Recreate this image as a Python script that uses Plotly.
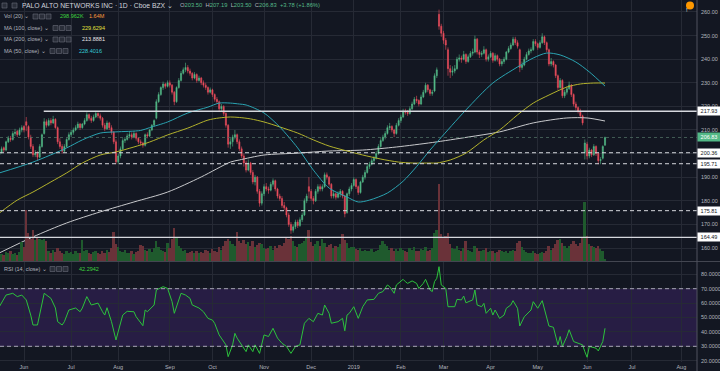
import plotly.graph_objects as go

# ---------------- data ----------------
month_ticks = [11, 32, 53, 76, 95, 118, 139, 158, 179, 198, 219, 240, 262, 282, 304]
month_labels = ['Jun', 'Jul', 'Aug', 'Sep', 'Oct', 'Nov', 'Dec', '2019', 'Feb', 'Mar',
                'Apr', 'May', 'Jun', 'Jul', 'Aug']

opens = [
    199.5, 200.5, 202.5, 201.5, 205, 206.5, 206, 208.5, 209.5, 208,
    210, 211.5, 213.5, 211.5, 207, 203, 199.5, 200, 198.5, 203,
    208.5, 213.5, 212, 214, 213, 214.5, 211, 205, 203, 201,
    203, 206, 208, 209, 210, 211, 212.5, 211, 212.5, 214,
    216.5, 215, 214, 215.5, 217, 216, 215, 212, 210.5, 213,
    211, 209, 205, 196.5, 199, 202, 205.5, 206, 207.5, 208,
    207, 208.5, 206.5, 205, 204.5, 203.5, 208, 207.5, 210, 212,
    215, 222, 225, 228, 229.5, 228.5, 230, 229, 226, 222,
    228, 231, 234, 235.5, 236.5, 235, 234, 232, 233.5, 231,
    232, 230, 229, 228, 226, 227, 225, 223, 222, 219,
    220, 217, 212, 204, 205, 207, 208, 205, 202, 199,
    196, 193, 196, 192, 188, 190, 184, 179, 183, 186,
    185, 184.5, 187, 188.5, 185, 182, 181, 178, 177, 174,
    170, 167.5, 169, 171, 169.5, 172, 174, 180, 186, 184,
    181, 180, 184, 186, 185, 186, 191, 190, 187, 182,
    183, 181.5, 183, 184, 182, 175, 183, 185, 186.5, 189,
    186, 183.5, 188, 190, 192, 194.5, 195.5, 197, 198, 200,
    203, 205.5, 207, 208.5, 211, 211.5, 210, 208.5, 212, 214,
    215.5, 218, 217.5, 217, 219, 221, 223, 222.5, 221, 224,
    226, 229, 227, 225.5, 226.5, 233, 259, 254, 251, 248,
    244, 236, 234.5, 235, 236, 240, 240.5, 240, 242, 239,
    241, 242.5, 243, 248.5, 243, 242, 242.5, 244, 240, 241,
    242.5, 239.5, 241.5, 240, 238, 239, 240, 243, 244.5, 246,
    248.5, 247, 244, 236.5, 237.5, 240, 242, 243.5, 244, 247.5,
    246.5, 245, 247, 249.5, 247, 244, 238, 239, 237.5, 233,
    228, 231, 224.5, 226, 227.5, 229, 225, 221, 219.5, 218,
    216, 200.5, 204, 199, 201.5, 199.5, 203, 200, 197, 198, 203.5,
]
highs = [
    201.5, 203, 203, 205.5, 207.5, 207.5, 209.5, 210.5, 210, 211,
    212, 212, 215.5, 212, 208, 204, 201.5, 201, 204, 208.5,
    215, 214.5, 215, 215, 216, 215, 211.5, 206.5, 204, 204,
    206.5, 209, 210, 211, 212, 213.5, 213, 213, 215, 217.5,
    217, 216, 216.5, 218, 217.5, 217, 215.5, 213, 214, 213.5,
    212, 209.5, 206, 200, 203, 206.5, 207, 208.5, 209.5, 209,
    209.5, 209, 207, 206, 205, 208.5, 209, 210.5, 212.5, 214.5,
    223, 226, 228.5, 230.5, 230, 231, 231, 229.5, 226.5, 228.5,
    232, 235, 236.5, 238.5, 237.5, 236, 234.5, 234.5, 234, 233,
    232.5, 231, 230, 228.5, 228, 227.5, 225.5, 224, 222.5, 221,
    220.5, 217.5, 212.5, 206.5, 208, 210, 208.5, 206, 203, 200,
    197, 197.5, 196.5, 193, 191, 190.5, 185, 184, 187, 187.5,
    186, 188, 189.5, 189, 185.5, 183, 182, 179.5, 177.5, 175,
    171, 170, 172, 172, 173, 175, 181, 183, 190, 185,
    182, 185, 187, 187, 187, 192, 192, 190.5, 187.5, 184.5,
    183.5, 184, 185, 184.5, 182.5, 183.5, 186, 187.5, 190, 189.5,
    186.5, 188.5, 191, 193, 195.5, 196.5, 198, 199, 201, 204,
    206.5, 208, 209.5, 212, 213, 212, 210.5, 213, 215, 216.5,
    219, 219, 218.5, 220, 222, 224, 224.5, 223, 225, 227,
    230, 229.5, 227.5, 227, 234, 236.5, 261, 255, 252, 249,
    245, 237.5, 237, 237.5, 241, 242, 241.5, 243.5, 242.5, 242,
    243.5, 244.5, 250, 249, 244, 243.5, 245.5, 244.5, 242, 243.5,
    243, 242.5, 242, 240.5, 240, 241, 243.5, 245.5, 247, 249.5,
    249.5, 248, 244.5, 239, 241, 243, 244.5, 245, 248.5, 248.5,
    247, 248, 251, 250, 247.5, 244.5, 240.5, 239.5, 238, 233.5,
    232, 231.5, 227, 228.5, 230.5, 229.5, 225.5, 222, 220, 219,
    216.5, 206, 205, 202.5, 202, 204, 203.5, 200.5, 198.5, 203.5, 207.19,
]
lows = [
    198.5, 200, 200.5, 201, 204.5, 205, 205.5, 207.5, 207, 207.5,
    209, 209, 209.5, 206, 202, 198.5, 198.5, 197, 198, 202.5,
    208, 211, 211.5, 212, 212.5, 210.5, 204, 202, 200, 200.5,
    202.5, 205.5, 207, 208, 209.5, 210.5, 210, 210.5, 212, 213.5,
    214, 213, 213.5, 215, 215, 214, 211, 209.5, 210, 210,
    208, 204, 195.5, 195.5, 198, 201.5, 204.5, 205.5, 206.5, 206,
    206.5, 205.5, 204, 203.5, 202.5, 203, 206.5, 207, 209.5, 211.5,
    214.5, 221.5, 224.5, 227, 227.5, 228, 228, 225, 220.5, 221.5,
    227.5, 230.5, 233.5, 234.5, 234, 233, 231, 231.5, 230, 230.5,
    229, 228, 227, 225, 225.5, 224, 222, 221, 218, 218,
    216, 211, 202.5, 202, 203, 206, 204, 201, 198, 194.5,
    192, 192.5, 191, 187, 186.5, 183, 177.5, 178, 182, 184,
    183, 184, 186, 184, 181, 180, 177, 176, 173, 169,
    166, 166.5, 168, 168.5, 169, 171, 173.5, 179, 181, 180,
    178.5, 179.5, 183, 184, 184, 185.5, 189, 186, 181, 181,
    180.5, 181, 181.5, 181, 173, 174.5, 182, 184, 186, 185,
    182.5, 183, 187.5, 189, 191.5, 193.5, 195, 196, 197.5, 199.5,
    202.5, 205, 206, 208, 210, 209, 207, 208, 211.5, 213,
    215, 216.5, 216, 216.5, 218.5, 220.5, 221.5, 220, 220.5, 223.5,
    225.5, 226, 224.5, 224.5, 226, 232, 252.5, 249.5, 246.5, 244,
    233, 232, 233, 234, 235.5, 239, 238.5, 239.5, 238, 238.5,
    240.5, 241.5, 242.5, 242, 240.5, 241, 242, 239, 239, 240.5,
    238.5, 239, 239, 237, 237, 238, 239.5, 242.5, 244, 245.5,
    246, 244.5, 234.5, 235.5, 237, 239.5, 241.5, 242.5, 243.5, 245.5,
    244, 244.5, 246.5, 246, 243, 237, 237, 236.5, 232, 227,
    227.5, 223.5, 223.5, 225, 227, 224, 220, 218.5, 217, 215,
    212, 197.5, 197.5, 198, 198.5, 199, 199, 195.5, 195.5, 197.5, 203.5,
]
closes = [
    200.5, 202, 201.5, 205, 206.5, 206, 208.5, 209, 208, 210,
    211, 210, 212, 207, 203, 199.5, 200, 198.5, 203, 208,
    213.5, 212, 214, 213, 214.5, 211, 205, 203, 201, 203,
    206, 208, 209, 210, 211, 212.5, 211, 212.5, 214, 216.5,
    215, 214, 215.5, 217, 216, 215, 212, 210.5, 213, 211,
    209, 205, 196.5, 199, 202, 205.5, 206, 207.5, 208, 207,
    208.5, 206.5, 205, 204.5, 203.5, 208, 207.5, 210, 212, 214,
    222, 225, 228, 229.5, 228.5, 230, 229, 226, 222, 228,
    231, 234, 235.5, 236.5, 235, 234, 232, 233.5, 231, 232,
    230, 229, 228, 226, 227, 225, 223, 222, 219, 220,
    217, 212, 204, 205, 207, 208, 205, 202, 199, 196,
    193, 196, 192, 188, 190, 184, 179, 183, 186, 185,
    184.5, 187, 188.5, 185, 182, 181, 178, 177, 174, 170,
    167.5, 169, 171, 169.5, 172, 174, 180, 182, 184, 181,
    180, 184, 186, 185, 186, 191, 190, 187, 182, 183,
    181.5, 183, 184, 182, 174.5, 183, 185, 186.5, 189, 186,
    183.5, 188, 190, 192, 194.5, 195.5, 197, 198, 200, 203,
    205.5, 207, 208.5, 211, 211.5, 210, 208.5, 212, 214, 215.5,
    218, 217.5, 217, 219, 221, 223, 222.5, 221, 224, 226,
    229, 227, 225.5, 226, 233, 235.5, 254, 251, 248, 246,
    236, 234.5, 235, 236, 240, 240.5, 240, 242, 239, 241,
    242.5, 243, 248.5, 243, 242, 242.5, 244, 240, 241, 242.5,
    239.5, 241.5, 240, 238, 239, 240, 243, 244.5, 246, 248.5,
    247, 245.5, 236.5, 237.5, 240, 242, 243.5, 244, 247.5, 246.5,
    245, 247, 249.5, 247, 244, 238, 239, 237.5, 233, 228,
    231, 224.5, 226, 227.5, 229, 225, 221, 219.5, 218, 216,
    213, 204.5, 199, 201.5, 199.5, 203, 200, 197, 197.5, 203.05, 206.83,
]
volumes_m = [
    1.2, 1.0, 0.9, 1.3, 1.1, 1.4, 1.0, 1.2, 0.9, 1.3,
    2.7, 2.0, 7.3, 4.0, 3.2, 4.5, 3.0, 3.4, 3.2, 3.0,
    3.1, 2.8, 1.5, 1.2, 1.6, 1.3, 1.8, 1.5, 1.2, 1.0,
    1.4, 1.1, 1.3, 1.0, 1.5, 1.2, 1.1, 3.0, 1.4, 1.6,
    1.2, 1.0, 1.3, 1.5, 1.1, 1.0, 1.4, 1.2, 1.6, 1.3,
    1.8, 4.2, 2.4, 2.0, 1.5, 1.3, 1.6, 1.2, 1.1, 1.4,
    1.0, 1.3, 1.5, 2.3, 2.1, 1.6, 1.4, 1.7, 1.3, 1.8,
    2.8, 2.0, 1.6, 1.5, 1.3, 2.6, 1.9, 3.2, 4.7, 3.3,
    2.2, 1.8, 1.5, 1.6, 1.2, 1.3, 1.4, 1.1, 1.5, 1.2,
    1.3, 1.1, 1.6, 1.4, 1.2, 1.7, 1.5, 1.3, 2.0, 1.6,
    2.2, 2.8, 3.2, 2.8, 2.5, 2.2, 4.1, 2.9, 2.6, 3.0,
    2.4, 2.7, 2.2, 2.9, 2.0, 2.3, 2.6, 2.4, 1.9, 1.7,
    1.8, 2.1, 1.6, 2.2, 1.9, 2.3, 2.1, 2.6, 3.5, 3.2,
    3.6, 2.8, 2.2, 2.0, 2.4, 2.6, 2.9, 3.4, 4.5, 2.7,
    2.1, 2.4, 2.9, 2.2, 3.2, 2.6, 2.0, 2.3, 2.4, 1.9,
    2.1, 2.0, 2.5, 3.8, 3.0, 2.6, 1.8, 2.0, 2.0, 1.7,
    1.6, 1.8, 1.5, 1.6, 1.4, 1.5, 1.7, 1.3, 1.5, 1.6,
    2.3, 2.8, 2.5, 2.1, 1.6, 1.8, 1.5, 1.7, 1.4, 1.9,
    1.6, 1.5, 1.3, 1.8, 1.6, 2.0, 1.5, 1.4, 1.7, 1.6,
    2.0, 1.5, 1.6, 1.8, 4.0, 4.5, 11.0, 3.8, 3.5, 3.6,
    4.0, 2.5, 1.9, 1.7, 2.1, 1.6, 1.5, 1.8, 2.8, 1.6,
    1.4, 1.3, 2.2, 1.8, 1.5, 1.4, 1.6, 1.9, 1.3, 1.5,
    1.4, 1.2, 1.3, 1.6, 1.4, 1.3, 1.5, 1.2, 1.4, 1.6,
    1.5, 2.6, 2.9, 2.0, 1.6, 1.3, 1.1, 1.2, 1.4, 1.2,
    1.0, 1.1, 1.3, 1.2, 1.4, 2.2, 1.6, 1.8, 2.4, 3.0,
    3.1, 2.6, 2.2, 1.9, 2.1, 2.4, 2.8, 2.5, 2.2, 2.6,
    3.4, 8.5, 3.6, 2.4, 2.2, 2.0, 1.8, 2.1, 1.7, 1.5, 0.3,
]

ma50_idx = [0, 15, 30, 37, 45, 52, 63, 67, 75, 84, 93, 98, 103, 107, 110, 118, 125, 133,
            140, 147, 155, 160, 165, 173, 180, 186, 192, 196, 208, 220, 231, 238, 244,
            250, 257, 263, 270]
ma50_val = [191.8, 196.4, 202.4, 205.8, 208.7, 209.2, 209.8, 211, 213.4, 217.2, 219.7,
            221.4, 221.4, 221.0, 220.6, 217.2, 211.3, 202.4, 193, 185.4, 181.6, 179.5,
            180.3, 183.3, 188.3, 194.5, 201.5, 205.8, 218.5, 229.9, 236.7, 240.5, 242.6,
            241.8, 238.8, 234.6, 228.6]
ma100_idx = [0, 8, 15, 23, 30, 37, 45, 52, 60, 67, 75, 84, 93, 98, 103, 107, 112, 118,
             125, 133, 140, 147, 155, 162, 170, 178, 184, 192, 195, 201, 208, 216, 223,
             231, 238, 245, 253, 259, 265, 270]
ma100_val = [174.8, 180.3, 183.7, 188, 191.8, 196, 199.4, 200.7, 202.8, 204.9, 207.9,
             210.8, 214.2, 215.1, 215.5, 215.3, 214.7, 213.4, 211.3, 208.7, 205.8, 203.2,
             201.1, 199.4, 197.7, 196.4, 196, 196, 196, 197.3, 200.2, 205.8, 210, 216.4,
             221.4, 224.8, 228.2, 229.5, 229.9, 229.9]
ma200_idx = [0, 15, 30, 45, 60, 75, 90, 103, 107, 118, 133, 147, 162, 177, 193, 209, 223,
             238, 253, 262, 270]
ma200_val = [157.9, 164.7, 170.6, 175.3, 179.5, 183.7, 190.1, 196.4, 197.3, 199.4, 200.2,
             201.1, 201.5, 202.8, 204.7, 207, 209.2, 213, 215.1, 215.1, 213.8]

rsi_idx = [0, 3, 6, 8, 10, 12, 14, 15, 17, 19,
           20, 23, 25, 26, 28, 29, 31, 34, 36, 37,
           39, 41, 44, 46, 47, 48, 50, 52, 53, 55,
           57, 60, 61, 64, 65, 66, 69, 70, 73, 75,
           77, 78, 81, 83, 85, 86, 89, 91, 93, 95,
           96, 98, 101, 102, 104, 105, 106, 108, 110, 111,
           113, 114, 116, 118, 120, 122, 124, 126, 128, 130,
           132, 134, 136, 138, 140, 142, 144, 145, 147, 148,
           151, 153, 154, 155, 156, 158, 160, 162, 164, 167,
           169, 171, 173, 174, 176, 177, 180, 181, 182, 184,
           186, 187, 189, 190, 192, 193, 194, 195, 196, 197,
           199, 200, 203, 204, 206, 207, 208, 211, 212, 213,
           215, 216, 217, 219, 220, 221, 223, 225, 226, 228,
           229, 231, 232, 234, 237, 238, 240, 242, 243, 245,
           247, 249, 250, 251, 253, 254, 256, 258, 260, 261,
           262, 263, 266, 267, 269, 270]
rsi_val = [57.5, 65.6, 66.8, 64.5, 65.6, 62.2, 51.7, 44.8, 44.8, 61,
           66.8, 63.3, 56.6, 47.1, 44.8, 47.1, 55.2, 56.6, 54, 56.6,
           64.5, 58.7, 60, 54, 51.7, 56.8, 47.1, 34.4, 40.1, 51.7,
           54.3, 54, 50.5, 44.3, 55.2, 54, 58.7, 69.1, 71.4, 70.2,
           61, 52.9, 66.8, 65.6, 63.3, 58.7, 56.6, 54, 49.4, 48.2,
           45.9, 37.9, 31, 22.8, 31, 39, 35.7, 31, 26.3, 31,
           26.3, 31, 25.1, 37.9, 36.8, 42.5, 35.7, 32.1, 29.9, 25.1,
           29.9, 31, 46, 49.4, 47.1, 52.9, 51.7, 58.7, 52.9, 46,
           47.1, 49.4, 40.8, 51.7, 52.9, 57.5, 49.4, 57.5, 62.2, 62.6,
           66.8, 68, 72.6, 71.4, 66.8, 72.6, 76.5, 74.9, 73.7, 75.4,
           73.7, 70.2, 73.7, 76.5, 69.1, 68, 74.9, 77.2, 85.3, 72.6,
           70.2, 57.5, 57.5, 62.6, 62.2, 64.9, 60.2, 62.2, 69.1, 58.7,
           57.5, 59.8, 52.9, 56.4, 51.7, 55.2, 49.4, 51.7, 56.4, 58.7,
           61.7, 56.4, 44.1, 50.5, 55.2, 61, 56.4, 61.7, 56.4, 44.1,
           43.2, 31, 36.8, 29.9, 36.8, 41.5, 33.3, 32.1, 31, 26.3,
           22.4, 29.9, 28.7, 26.8, 33.3, 42.5]

level_solid = [217.93, 164.49]
level_dashed = [200.36, 195.71, 175.81]
last_price = 206.83

# ---------------- geometry / style ----------------
W, H = 720, 371
MR, MB = 23, 9
PW, PH = W - MR, H - MB


def fx(px):
    return px / PW


def fy(py):
    return 1 - py / PH


BG = '#131722'
GRID = '#262a35'
TXT = '#b2b5be'
UP, DN = '#53b987', '#eb4d5c'
VUP, VDN = '#1f5a2d', '#6a3239'
FONT = 'Liberation Sans'

n = min(len(opens), len(highs), len(lows), len(closes), len(volumes_m))
bars = list(range(n))

fig = go.Figure()

vol_colors = [VUP if closes[i] >= opens[i] else VDN for i in bars]
fig.add_trace(go.Bar(x=bars, y=volumes_m[:n], marker=dict(color=vol_colors, line=dict(width=0)),
                     width=0.85, xaxis='x', yaxis='y3', hoverinfo='skip'))

fig.add_trace(go.Candlestick(
    x=bars, open=opens[:n], high=highs[:n], low=lows[:n], close=closes[:n],
    increasing=dict(line=dict(color=UP, width=0.6), fillcolor=UP),
    decreasing=dict(line=dict(color=DN, width=0.6), fillcolor=DN),
    whiskerwidth=0, xaxis='x', yaxis='y'))

for idx, val, col in [(ma200_idx, ma200_val, '#c8c9cc'),
                      (ma100_idx, ma100_val, '#b3b22c'),
                      (ma50_idx, ma50_val, '#2aa3b1')]:
    fig.add_trace(go.Scatter(x=idx, y=val, mode='lines',
                             line=dict(color=col, width=1, shape='spline', smoothing=0.8),
                             xaxis='x', yaxis='y', hoverinfo='skip'))

fig.add_trace(go.Scatter(x=rsi_idx, y=rsi_val, mode='lines',
                         line=dict(color='#2cc23c', width=1), xaxis='x', yaxis='y2',
                         hoverinfo='skip'))

shapes = []
annotations = []

# RSI band and bounds
shapes.append(dict(type='rect', xref='paper', yref='y2', x0=0, x1=1, y0=30, y1=70,
                   fillcolor='rgba(110,50,180,0.23)', line=dict(width=0), layer='below'))
for lv in (70, 30):
    shapes.append(dict(type='line', xref='paper', yref='y2', x0=0, x1=1, y0=lv, y1=lv,
                       line=dict(color='#c9c4d8', width=0.8, dash='4px,3px')))

# price levels
shapes.append(dict(type='line', xref='x', yref='y', x0=19.8, x1=311, y0=level_solid[0],
                   y1=level_solid[0], line=dict(color='#d6d8de', width=1.4)))
shapes.append(dict(type='line', xref='paper', yref='y', x0=0, x1=1, y0=level_solid[1],
                   y1=level_solid[1], line=dict(color='#d6d8de', width=1.4)))
for lv in level_dashed:
    shapes.append(dict(type='line', xref='paper', yref='y', x0=0, x1=1, y0=lv, y1=lv,
                       line=dict(color='#d6d8de', width=1, dash='4px,3px')))
shapes.append(dict(type='line', xref='paper', yref='y', x0=0, x1=1, y0=last_price,
                   y1=last_price, line=dict(color='#4f6f63', width=0.8, dash='dot')))

# separators
shapes.append(dict(type='line', xref='paper', yref='paper', x0=0, x1=fx(W), y0=fy(261.5),
                   y1=fy(261.5), line=dict(color='#434651', width=1)))
shapes.append(dict(type='line', xref='paper', yref='paper', x0=1, x1=1, y0=1, y1=fy(H),
                   line=dict(color='#50535e', width=1)))

# right-side boxed labels
for val, bg, fg in [(level_solid[0], '#ffffff', '#131722'), (last_price, UP, '#ffffff'),
                    (level_dashed[0], '#ffffff', '#131722'), (level_dashed[1], '#ffffff', '#131722'),
                    (level_dashed[2], '#ffffff', '#131722'), (level_solid[1], '#ffffff', '#131722')]:
    annotations.append(dict(xref='paper', yref='y', x=1, y=val, xanchor='left', yanchor='middle',
                            text=f'{val:.2f}', showarrow=False, bgcolor=bg, width=20,
                            borderpad=1, font=dict(size=5.5, color=fg, family=FONT)))


def icons(x0, yc, count=3):
    for k in range(count):
        xa = x0 + k * 6.5
        shapes.append(dict(type='rect', xref='paper', yref='paper', x0=fx(xa), x1=fx(xa + 5),
                           y0=fy(yc + 2.5), y1=fy(yc - 2.5), fillcolor='#2a2e39',
                           line=dict(color='#6a6d78', width=0.6)))


def label(x, y, text, size=5.5, color=TXT):
    annotations.append(dict(xref='paper', yref='paper', x=fx(x), y=fy(y), xanchor='left',
                            yanchor='middle', text=text, showarrow=False,
                            font=dict(size=size, color=color, family=FONT)))


# header
icons(2, 5.5, 1)
icons(12, 5.5, 1)
label(20, 5.5, 'PALO ALTO NETWORKS INC · 1D · Cboe BZX ⌄', 6.8, '#d1d4dc')
g = UP
label(178, 5.5, (f'O<span style="color:{g}">203.50</span>  H<span style="color:{g}">207.19</span>  '
                 f'L<span style="color:{g}">203.50</span>  C<span style="color:{g}">206.83</span>  '
                 f'<span style="color:{g}">+3.78 (+1.86%)</span>'), 5.8, TXT)

label(2, 16.5, 'Vol (20) ⌄')
icons(33, 16.5)
label(58, 16.5, '298.962K', 5.5, '#3ed43e')
label(87, 16.5, '1.64M', 5.5, '#ff9b3d')

label(2, 28, 'MA (100, close) ⌄')
icons(53, 28)
label(80, 28, '229.6294', 5.5, '#e3e23c')

label(2, 39.5, 'MA (200, close) ⌄')
icons(53, 39.5)
label(80, 39.5, '213.8881', 5.5, '#e6e6e6')

label(2, 51, 'MA (50, close) ⌄')
icons(50, 51)
label(77, 51, '228.4016', 5.5, '#33c9d6')

label(2, 269, 'RSI (14, close) ⌄')
icons(50, 269)
label(77, 269, '42.2942', 5.5, '#3ed43e')

# orange alert icon
shapes.append(dict(type='circle', xref='paper', yref='paper', x0=fx(686), x1=fx(694),
                   y0=fy(9.5), y1=fy(1.5), fillcolor='#ff9800', line=dict(width=0)))
annotations.append(dict(xref='paper', yref='paper', x=fx(690), y=fy(5.5), text='!',
                        showarrow=False, font=dict(size=5.5, color='#ffffff', family=FONT)))

fig.update_layout(
    width=W, height=H, margin=dict(l=0, r=MR, t=0, b=MB),
    paper_bgcolor=BG, plot_bgcolor=BG, showlegend=False,
    font=dict(family=FONT, color=TXT, size=5.5),
    bargap=0,
    xaxis=dict(range=[0.3, 311], anchor='y2', tickvals=month_ticks, ticktext=month_labels,
               showgrid=True, gridcolor=GRID, gridwidth=1, zeroline=False, showline=False,
               ticks='', tickfont=dict(size=5.5, color=TXT), rangeslider=dict(visible=False),
               fixedrange=True),
    yaxis=dict(domain=[fy(261), 1], range=[154.49, 265.08], side='right',
               tickvals=list(range(160, 261, 10)), tickformat='.2f', showgrid=True,
               gridcolor=GRID, zeroline=False, ticks='', ticklabelstandoff=3,
               tickfont=dict(size=5.5, color=TXT)),
    yaxis2=dict(domain=[0, fy(262)], range=[19.1, 88.54], side='right',
                tickvals=list(range(20, 81, 10)), tickformat='.4f', showgrid=True,
                gridcolor=GRID, zeroline=False, ticks='', ticklabelstandoff=3,
                tickfont=dict(size=5.5, color=TXT)),
    yaxis3=dict(overlaying='y', range=[0, 261 / 7.0], visible=False),
    shapes=shapes, annotations=annotations,
)

fig.write_html(
    'out.html',
    config={'displayModeBar': False},
    post_script="document.body.style.margin='0px';document.body.style.background='#131722';",
)
